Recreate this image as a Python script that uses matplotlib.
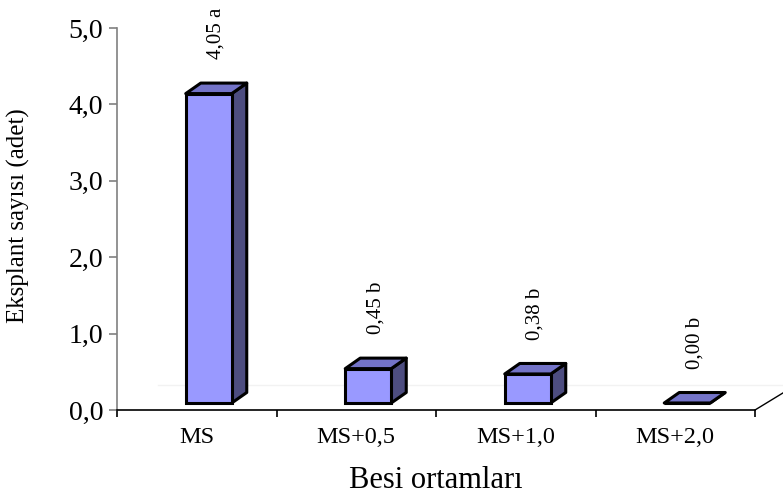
import matplotlib
matplotlib.use("Agg")
import matplotlib.pyplot as plt
from matplotlib.patches import Polygon
import numpy as np

# Data
categories = ["MS", "MS+0,5", "MS+1,0", "MS+2,0"]
values = [4.05, 0.45, 0.38, 0.00]
letters = ["a", "b", "b", "b"]
y_ticks = [0.0, 1.0, 2.0, 3.0, 4.0, 5.0]
y_tick_labels = ["0,0", "1,0", "2,0", "3,0", "4,0", "5,0"]

plt.rcParams["font.family"] = ["Liberation Serif", "DejaVu Serif"]

W, H = 783, 495
fig = plt.figure(figsize=(W / 100, H / 100), dpi=100)
ax_l, ax_r, ax_b, ax_t = 117, 755, 410, 28
ax = fig.add_axes([ax_l / W, (H - ax_b) / H, (ax_r - ax_l) / W, (ax_b - ax_t) / H])
ax.set_xlim(-0.5, 3.5)
ax.set_ylim(0, 5)

# pixel -> data unit conversions
px_x = (3.5 - (-0.5)) / (ax_r - ax_l)
px_y = 5.0 / (ax_b - ax_t)

# 3D geometry (in pixels): floor depth shift of bar front plane and bar depth
shift_x, shift_y = 12 * px_x, 7 * px_y
depth_x, depth_y = 15 * px_x, 10.5 * px_y
bar_w = 46 * px_x

front_c = "#9999FF"
top_c = "#7373C8"
side_c = "#4D4D80"
edge_lw = 2.2

x = np.arange(len(categories))
for xi, v in zip(x, values):
    x0 = xi - bar_w / 2 + shift_x
    x1 = x0 + bar_w
    y0 = shift_y
    y1 = shift_y + v
    # side face
    ax.add_patch(Polygon([(x1, y0), (x1 + depth_x, y0 + depth_y),
                          (x1 + depth_x, y1 + depth_y), (x1, y1)],
                         closed=True, facecolor=side_c, edgecolor="black",
                         lw=edge_lw, joinstyle="round", zorder=3))
    # top face
    ax.add_patch(Polygon([(x0, y1), (x1, y1), (x1 + depth_x, y1 + depth_y),
                          (x0 + depth_x, y1 + depth_y)],
                         closed=True, facecolor=top_c, edgecolor="black",
                         lw=edge_lw, joinstyle="round", zorder=3))
# front faces
ax.bar(x + shift_x, values, width=bar_w, bottom=shift_y, color=front_c,
       edgecolor="black", linewidth=edge_lw, zorder=4)

# value labels
for xi, v, let in zip(x, values, letters):
    ax.text(xi + shift_x + depth_x / 2, v + 0.54, f"{v:.2f}".replace(".", ",") + " " + let,
            rotation=90, ha="center", va="bottom", fontsize=15, zorder=5)

# floor back edge and right floor edge
floor_dx, floor_dy = 41 * px_x, 25 * px_y
ax.plot([-0.5 + floor_dx, 3.5 + floor_dx + 1], [floor_dy, floor_dy],
        color="#f2f2f2", lw=1, zorder=1, clip_on=False)
ax.plot([3.5, 3.5 + floor_dx], [0, floor_dy], color="black", lw=1, zorder=2,
        clip_on=False)

# spines
for s in ["top", "right"]:
    ax.spines[s].set_visible(False)
ax.spines["left"].set_color("#808080")
ax.spines["left"].set_linewidth(1.2)
ax.spines["bottom"].set_color("black")
ax.spines["bottom"].set_linewidth(1.2)

ax.set_yticks(y_ticks)
ax.set_yticklabels(y_tick_labels, fontsize=20)
ax.tick_params(axis="y", direction="out", length=6, width=1.2, color="#808080", pad=4)

ax.set_xticks(x)
ax.set_xticklabels(categories, fontsize=17.5)
ax.set_xticks(np.arange(-0.5, 4.0, 1.0), minor=True)
ax.tick_params(axis="x", which="major", length=0, pad=12.5)
ax.tick_params(axis="x", which="minor", direction="out", length=5, width=1.2, color="black")

ax.set_xlabel("Besi ortamları", fontsize=22)
ax.xaxis.set_label_coords(0.5, -0.146)
ax.set_ylabel("Eksplant sayısı (adet)", fontsize=18)
ax.yaxis.set_label_coords(-0.137, 0.51)

fig.savefig("out.png", dpi=100)
